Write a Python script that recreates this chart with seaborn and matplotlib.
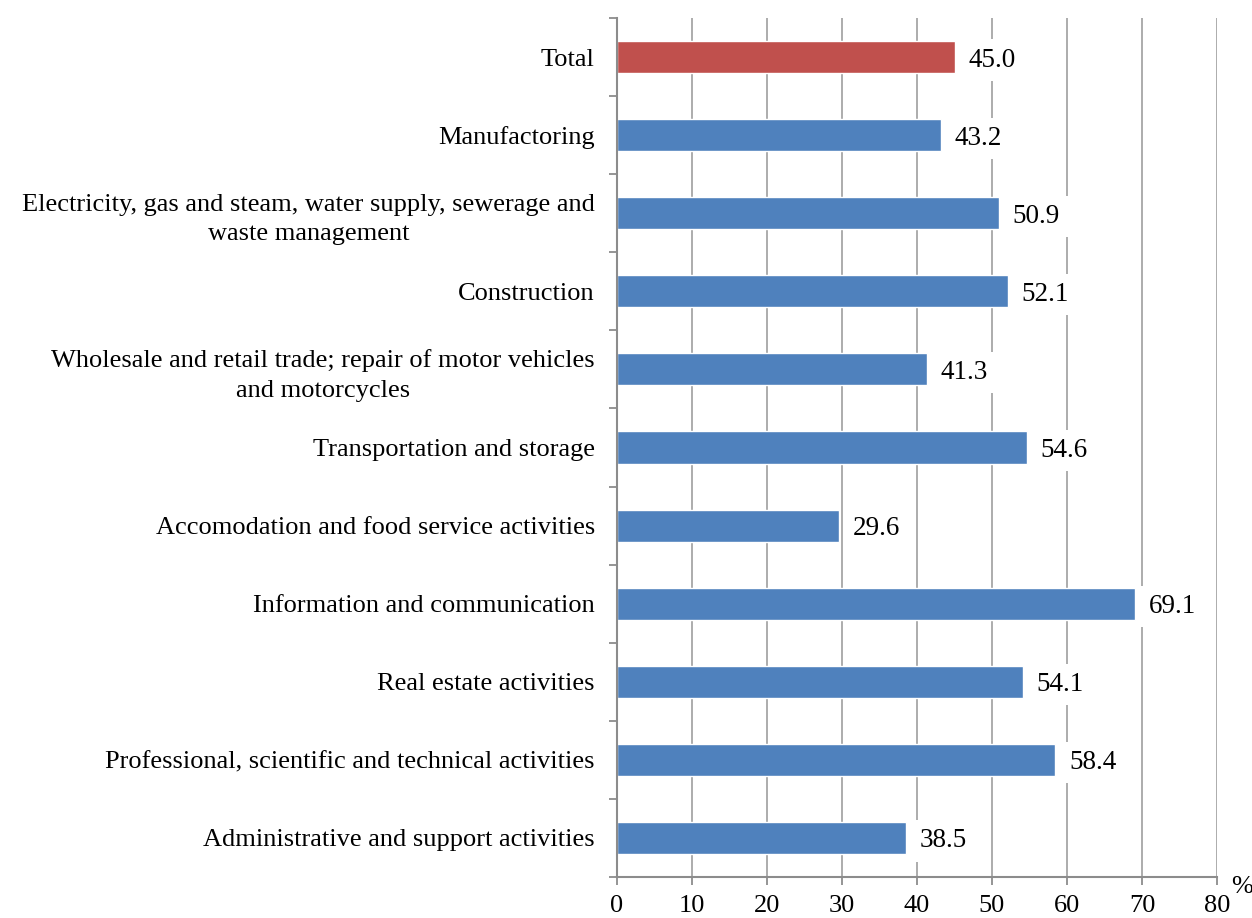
import matplotlib
matplotlib.use("Agg")
import matplotlib.pyplot as plt
from matplotlib.ticker import FixedLocator
import seaborn as sns
import pandas as pd
import numpy as np

categories = [
    "Total",
    "Manufactoring",
    "Electricity, gas and steam, water supply, sewerage and\nwaste management",
    "Construction",
    "Wholesale and retail trade; repair of motor vehicles\nand motorcycles",
    "Transportation and storage",
    "Accomodation and food service activities",
    "Information and communication",
    "Real estate activities",
    "Professional, scientific and technical activities",
    "Administrative and support activities",
]
values = [45.0, 43.2, 50.9, 52.1, 41.3, 54.6, 29.6, 69.1, 54.1, 58.4, 38.5]
groups = ["total"] + ["sector"] * (len(categories) - 1)
x_ticks = [0, 10, 20, 30, 40, 50, 60, 70, 80]

df = pd.DataFrame({"category": categories, "value": values, "group": groups})

sns.set_theme(style="white")
plt.rcParams["font.family"] = ["Liberation Serif", "DejaVu Serif"]
plt.rcParams["text.color"] = "black"
plt.rcParams["xtick.labelcolor"] = "black"
plt.rcParams["ytick.labelcolor"] = "black"

grid_color = "#a6a6a6"
spine_color = "#8c8c8c"
fs = 19

fig = plt.figure(figsize=(12.52, 9.18), dpi=100)
ax = fig.add_axes([617 / 1252, 1 - 877 / 918, 600 / 1252, (877 - 18) / 918])

sns.barplot(
    data=df, x="value", y="category", hue="group", orient="h",
    palette={"total": "#c0504d", "sector": "#4f81bd"},
    width=0.41, legend=False, ax=ax, saturation=1, zorder=3,
)

ax.set_xlim(0, 80)
ax.set_ylim(len(categories) - 0.5, -0.5)
ax.set_xticks(x_ticks)
ax.set_xticklabels([str(t) for t in x_ticks], fontsize=fs)
ax.set_xlabel("")
ax.set_ylabel("")

# vertical grid lines
for t in x_ticks[1:]:
    ax.axvline(t, color=grid_color, lw=1.3, zorder=1)

# category labels centred on bars, tick marks between categories
ax.yaxis.set_minor_locator(FixedLocator(np.arange(-0.5, len(categories), 1.0)))
ax.tick_params(axis="y", which="major", length=0, pad=16, labelsize=fs)
ax.tick_params(axis="y", which="minor", length=6, width=1.3, color=spine_color, left=True)
ax.tick_params(axis="x", which="major", length=6, width=1.3, color=spine_color,
               bottom=True, pad=7, labelsize=fs)
for lab in ax.get_yticklabels():
    lab.set_multialignment("center")
    lab.set_linespacing(1.45)

for side in ["top", "right"]:
    ax.spines[side].set_visible(False)
for side in ["left", "bottom"]:
    ax.spines[side].set_color(spine_color)
    ax.spines[side].set_linewidth(1.5)
    ax.spines[side].set_zorder(4)

# value labels on white boxes
for i, v in enumerate(values):
    ax.annotate(f"{v:.1f}", xy=(v, i), xytext=(10, 0), textcoords="offset points",
                ha="left", va="center_baseline", fontsize=fs + 0.5, color="black", zorder=5,
                bbox=dict(boxstyle="square,pad=0.3", fc="white", ec="none"))

ax.text(1.042, -0.012, "%", transform=ax.transAxes, fontsize=fs, ha="center",
        va="center", color="black")

fig.savefig("out.png", dpi=100)
